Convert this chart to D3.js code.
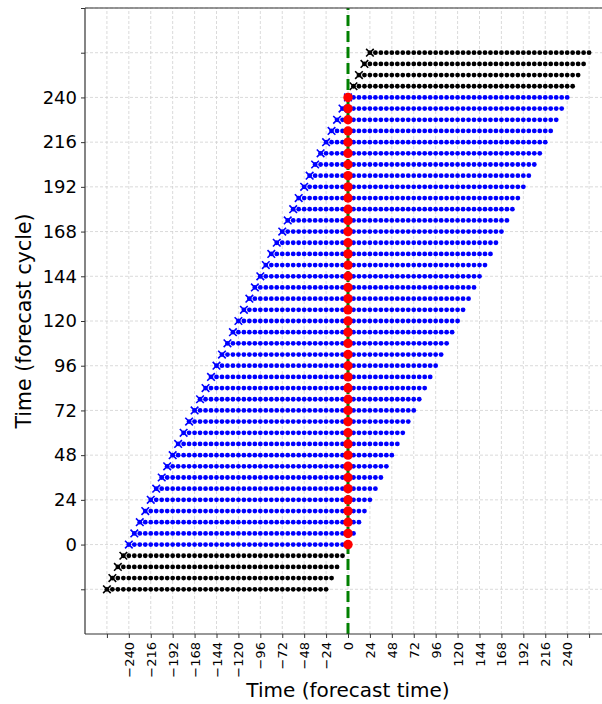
<!DOCTYPE html>
<html><head><meta charset="utf-8">
<script src="https://cdn.jsdelivr.net/npm/d3@7/dist/d3.min.js"></script>
<style>body{margin:0;background:#fff;} svg{display:block;font-family:"DejaVu Sans",sans-serif;}</style>
</head><body>
<script>
// forecast cycles (hours)
const blueCycles = [0,6,12,18,24,30,36,42,48,54,60,66,72,78,84,90,96,102,108,114,120,126,132,138,144,150,156,162,168,174,180,186,192,198,204,210,216,222,228,234,240];
const blackCycles = [-24,-18,-12,-6,246,252,258,264];
// forecast lead offsets relative to cycle (hours)
const leadOffsets = [-240,-234,-228,-222,-216,-210,-204,-198,-192,-186,-180,-174,-168,-162,-156,-150,-144,-138,-132,-126,-120,-114,-108,-102,-96,-90,-84,-78,-72,-66,-60,-54,-48,-42,-36,-30,-24,-18,-12,-6,0];
const xTicks = [-264,-240,-216,-192,-168,-144,-120,-96,-72,-48,-24,0,24,48,72,96,120,144,168,192,216,240,264];
const xTickLabels = [-240,-216,-192,-168,-144,-120,-96,-72,-48,-24,0,24,48,72,96,120,144,168,192,216,240];
const yTicks = [-24,0,24,48,72,96,120,144,168,192,216,240,264,288];
const yTickLabels = [0,24,48,72,96,120,144,168,192,216,240];
const analysisTime = [0];

const W=602,H=704;
const svg=d3.select("body").append("svg").attr("width",W).attr("height",H);
const x=d3.scaleLinear().domain([-288,288]).range([85,611]);
const y=d3.scaleLinear().domain([-48,288]).range([634,8]);

// grid
const g=svg.append("g");
g.selectAll("line.vx").data(xTicks).join("line").attr("x1",d=>x(d)).attr("x2",d=>x(d)).attr("y1",y(-48)).attr("y2",y(288))
 .attr("stroke","#d0d0d0").attr("stroke-width",0.8).attr("stroke-dasharray","3,2");
g.selectAll("line.hy").data(yTicks).join("line").attr("y1",d=>y(d)).attr("y2",d=>y(d)).attr("x1",x(-288)).attr("x2",x(288))
 .attr("stroke","#d0d0d0").attr("stroke-width",0.8).attr("stroke-dasharray","3,2");

function drawRow(c,color){
  const pts=leadOffsets.map(o=>c+o);
  const r=svg.append("g");
  r.selectAll("circle").data(pts).join("circle").attr("cx",d=>x(d)).attr("cy",y(c)).attr("r",2.4).attr("fill",color);
  const sx=x(pts[0]), sy=y(c), s=3.8;
  r.append("path").attr("d",`M${sx-s},${sy-s}L${sx+s},${sy+s}M${sx-s},${sy+s}L${sx+s},${sy-s}`)
   .attr("stroke",color).attr("stroke-width",1.6).attr("fill","none");
}
blackCycles.forEach(c=>drawRow(c,"#000"));
blueCycles.forEach(c=>drawRow(c,"#0000ff"));

// green dashed line at analysis time
svg.append("line").attr("x1",x(analysisTime[0])).attr("x2",x(analysisTime[0])).attr("y1",y(-48)).attr("y2",y(288))
 .attr("stroke","#008000").attr("stroke-width",3).attr("stroke-dasharray","11,5");

// red dots
svg.append("g").selectAll("circle").data(blueCycles).join("circle").attr("cx",x(analysisTime[0])).attr("cy",d=>y(d)).attr("r",4.7).attr("fill","#ff0000");

// spines
svg.append("line").attr("x1",85).attr("x2",85).attr("y1",y(288)).attr("y2",y(-48)).attr("stroke","#333").attr("stroke-width",1.2);
svg.append("line").attr("x1",85).attr("x2",W).attr("y1",y(288)).attr("y2",y(288)).attr("stroke","#333").attr("stroke-width",1.2);
svg.append("line").attr("x1",85).attr("x2",W).attr("y1",y(-48)).attr("y2",y(-48)).attr("stroke","#333").attr("stroke-width",1.2);

// ticks
const xa=d3.axisBottom(x).tickValues(xTicks).tickSize(4).tickFormat(d=>xTickLabels.includes(d)?String(d).replace("-","\u2212"):"");
const gx=svg.append("g").attr("transform",`translate(0,${y(-48)})`).call(xa);
gx.select(".domain").remove();
gx.selectAll(".tick line").attr("stroke","#333");
gx.selectAll(".tick text").attr("transform","rotate(-90)").attr("text-anchor","end").attr("x",-8).attr("y",0).attr("dy","0.35em")
  .style("font-size","13px").style("font-family","DejaVu Sans").attr("fill","#000");

const ya=d3.axisLeft(y).tickValues(yTicks).tickSize(4).tickFormat(d=>yTickLabels.includes(d)?String(d):"");
const gy=svg.append("g").attr("transform",`translate(85,0)`).call(ya);
gy.select(".domain").remove();
gy.selectAll(".tick line").attr("stroke","#333");
gy.selectAll(".tick text").attr("x",-8).style("font-size","18px").style("font-family","DejaVu Sans").attr("fill","#000");

svg.append("text").attr("x",x(0)).attr("y",697).attr("text-anchor","middle").style("font-size","20px").text("Time (forecast time)");
svg.append("text").attr("transform",`translate(31,${y(120)}) rotate(-90)`).attr("text-anchor","middle").style("font-size","20.5px").text("Time (forecast cycle)");
</script>
</body></html>
